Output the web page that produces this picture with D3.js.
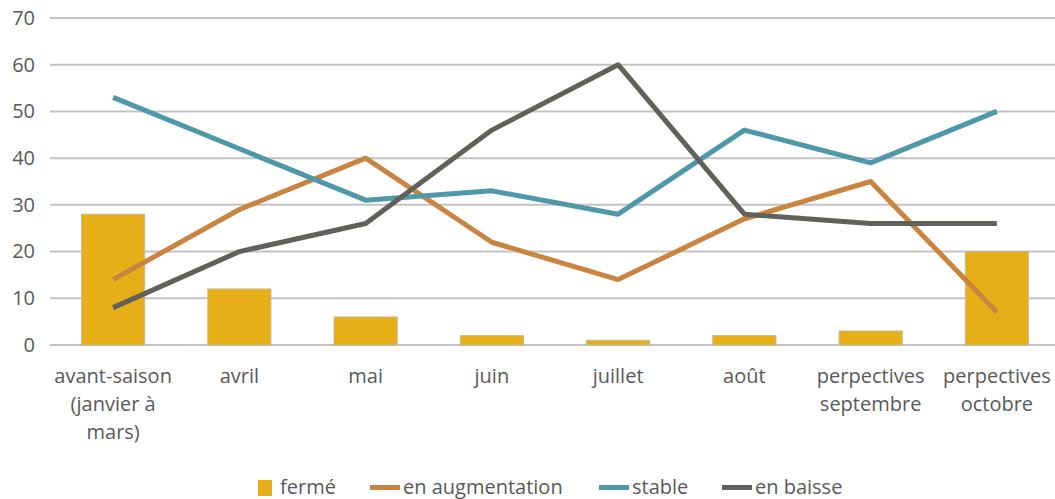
<!DOCTYPE html>
<html>
<head>
<meta charset="utf-8">
<script src="https://cdn.jsdelivr.net/npm/d3@7"></script>
<style>
  body { margin: 0; background: #fff; }
  text { font-family: "Open Sans", sans-serif; fill: #595959; }
</style>
</head>
<body>
<svg id="chart" width="1055" height="499"></svg>
<script>
const categories = [
  ["avant-saison", "(janvier à", "mars)"],
  ["avril"], ["mai"], ["juin"], ["juillet"], ["août"],
  ["perpectives", "septembre"],
  ["perpectives", "octobre"]
];
const ferme = [28, 12, 6, 2, 1, 2, 3, 20];
const enAugmentation = [14, 29, 40, 22, 14, 27, 35, 7];
const stable = [53, 42, 31, 33, 28, 46, 39, 50];
const enBaisse = [8, 20, 26, 46, 60, 28, 26, 26];
const yTicks = [0, 10, 20, 30, 40, 50, 60, 70];

const lineSeries = [
  {name: "en augmentation", values: enAugmentation, color: "#C9843F"},
  {name: "stable", values: stable, color: "#4F98A9"},
  {name: "en baisse", values: enBaisse, color: "#60615B"}
];

const svg = d3.select("#chart");
const margin = {left: 50, right: -5, top: 18, bottom: 154};
const width = 1055 - margin.left - margin.right;
const height = 499 - margin.top - margin.bottom;

const keys = categories.map((d, i) => i);
const x = d3.scaleBand().domain(keys).range([margin.left, margin.left + width]).paddingInner(0.5).paddingOuter(0.25);
const xc = i => x(i) + x.bandwidth() / 2;
const y = d3.scaleLinear().domain([0, 70]).range([margin.top + height, margin.top]);

// gridlines
svg.append("g")
  .selectAll("line")
  .data(yTicks)
  .enter().append("line")
    .attr("x1", margin.left)
    .attr("x2", 1055)
    .attr("y1", d => y(d))
    .attr("y2", d => y(d))
    .attr("stroke", "#c3c3c3")
    .attr("stroke-width", 2);

// y axis labels
const yAxis = svg.append("g")
  .attr("transform", `translate(${margin.left - 15},0)`)
  .call(d3.axisLeft(y).tickValues(yTicks).tickSize(0).tickPadding(0));
yAxis.select(".domain").remove();
yAxis.selectAll("text")
  .style("font-family", '"Open Sans", sans-serif')
  .style("font-size", "20px")
  .attr("fill", "#595959");

// bars
svg.append("g")
  .selectAll("rect")
  .data(ferme)
  .enter().append("rect")
    .attr("x", (d, i) => x(i))
    .attr("width", x.bandwidth())
    .attr("y", d => y(d))
    .attr("height", d => y(0) - y(d))
    .attr("fill", "#E7AF17")
    .attr("stroke", "#c9b98a")
    .attr("stroke-width", 1);

// lines
const line = d3.line().x((d, i) => xc(i)).y(d => y(d));
svg.append("g")
  .selectAll("path")
  .data(lineSeries)
  .enter().append("path")
    .attr("d", d => line(d.values))
    .attr("fill", "none")
    .attr("stroke", d => d.color)
    .attr("stroke-width", 5)
    .attr("stroke-linejoin", "round");

// x labels
const xl = svg.append("g")
  .selectAll("text")
  .data(categories)
  .enter().append("text")
    .attr("text-anchor", "middle")
    .attr("x", (d, i) => xc(i))
    .attr("y", 383)
    .style("font-size", "20px");
xl.selectAll("tspan")
  .data(d => d)
  .enter().append("tspan")
    .attr("x", function() { return this.parentNode.getAttribute("x"); })
    .attr("dy", (d, i) => i === 0 ? 0 : 28)
    .text(d => d);

// legend
const legendItems = [
  {name: "fermé", type: "bar", color: "#E7AF17", x: 258},
  {name: "en augmentation", type: "line", color: "#C9843F", x: 370},
  {name: "stable", type: "line", color: "#4F98A9", x: 599},
  {name: "en baisse", type: "line", color: "#60615B", x: 722}
];
const legendY = 488;
const lg = svg.append("g")
  .selectAll("g")
  .data(legendItems)
  .enter().append("g")
    .attr("transform", d => `translate(${d.x},${legendY})`);
lg.filter(d => d.type === "bar").append("rect")
  .attr("x", 0).attr("y", -8).attr("width", 14).attr("height", 16)
  .attr("fill", d => d.color);
lg.filter(d => d.type === "line").append("rect")
  .attr("x", 0).attr("y", -3).attr("width", 30).attr("height", 5)
  .attr("fill", d => d.color);
lg.append("text")
  .attr("x", d => d.type === "bar" ? 22 : 33)
  .attr("y", 6)
  .style("font-size", "20px")
  .text(d => d.name);
</script>
</body>
</html>
